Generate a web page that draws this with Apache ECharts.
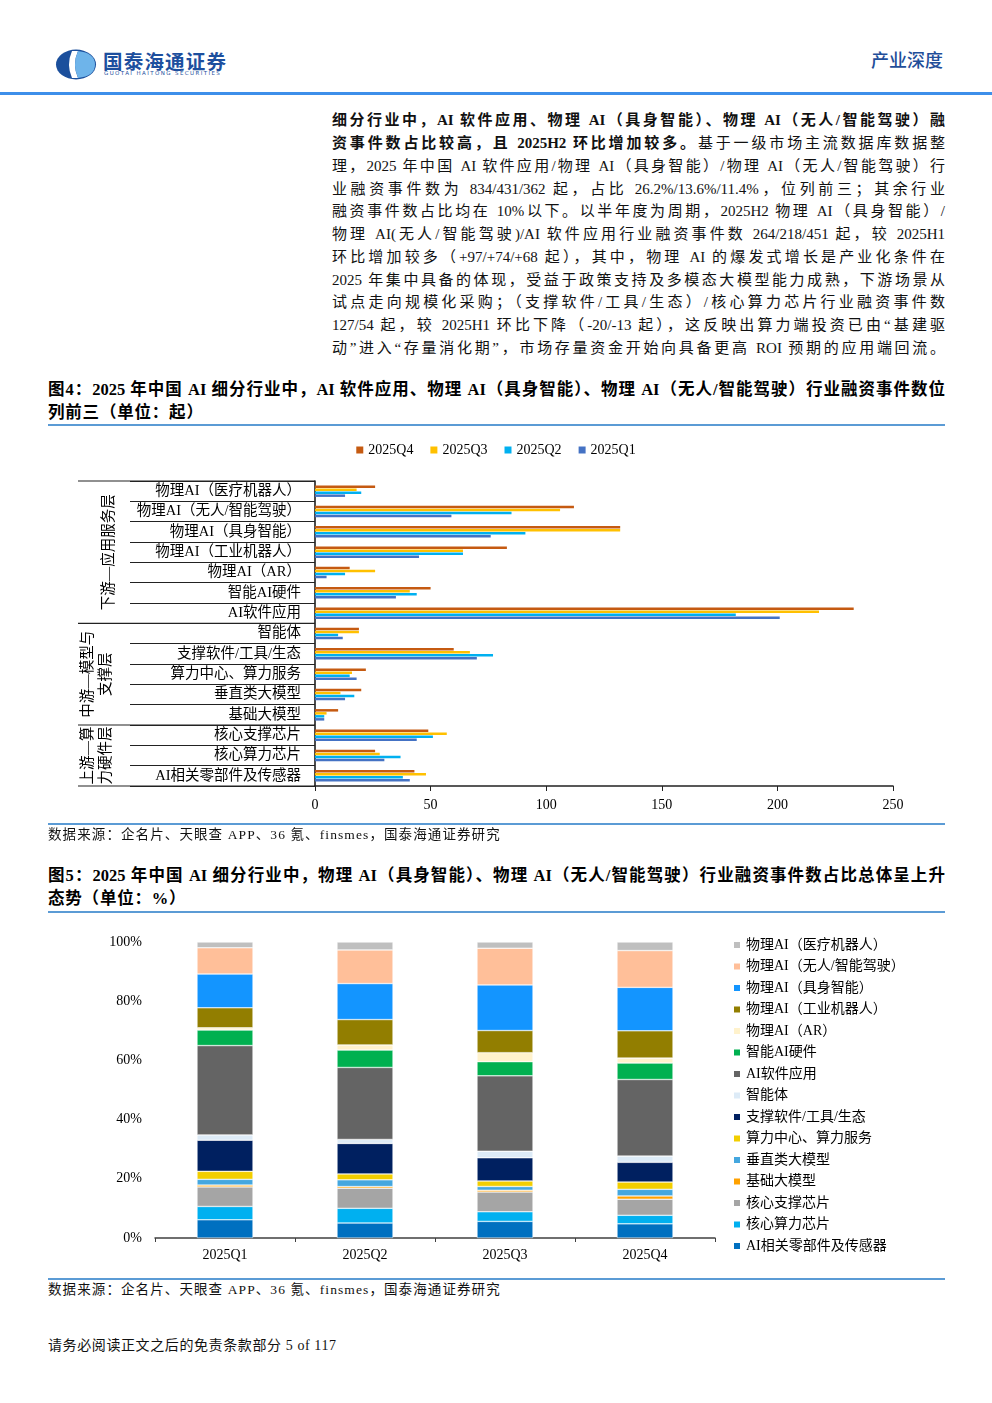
<!DOCTYPE html>
<html><head><meta charset="utf-8">
<script src="https://cdn.jsdelivr.net/npm/echarts@6/dist/echarts.min.js"></script>
<style>
html,body{margin:0;padding:0;background:#fff;}
body{width:992px;height:1403px;position:relative;overflow:hidden;font-family:"Liberation Serif","Times New Roman","Noto Sans CJK SC",serif;color:#000;}
.a{position:absolute;}
.pl{position:absolute;left:332px;width:613px;height:22px;line-height:22px;font-size:15px;text-align:justify;text-align-last:justify;color:#111;}
.b{font-weight:bold;}
.tt{position:absolute;left:48px;width:897px;height:22px;line-height:22px;font-size:16.5px;font-weight:bold;text-align:justify;text-align-last:justify;}
.tt2{position:absolute;left:48px;height:22px;line-height:22px;font-size:16.5px;font-weight:bold;letter-spacing:0.8px;}
.rule{position:absolute;left:48px;width:897px;height:2px;background:#5B9BD5;}
.src{position:absolute;left:48px;font-size:13.5px;letter-spacing:1.1px;line-height:18px;color:#111;}
</style></head>
<body>
<!-- header -->
<svg class="a" style="left:55px;top:49px" width="42" height="31" viewBox="0 0 42 31">
  <ellipse cx="21" cy="15.5" rx="20" ry="15" fill="#1B4F9C"/>
  <path d="M17 2 Q11 15.5 17 29 L23 29 Q17 15.5 23 2 Z" fill="#ffffff"/>
  <path d="M23 2 Q17 15.5 23 29 Q40 27 40 15.5 Q40 4 23 2 Z" fill="#6EB4EA"/>
</svg>
<div class="a" style="left:103px;top:49px;font-family:'Noto Sans CJK SC';font-weight:bold;font-size:19.5px;line-height:24px;color:#1D4F9E;letter-spacing:1.2px;">国泰海通证券</div>
<div class="a" style="left:104px;top:70px;font-family:'DejaVu Sans';font-size:5.5px;line-height:7px;color:#1D4F9E;letter-spacing:1.4px;">GUOTAI HAITONG SECURITIES</div>
<div class="a" style="left:871px;top:47px;font-family:'Noto Sans CJK SC';font-size:18px;line-height:24px;color:#1F4E99;font-weight:500;">产业深度</div>
<div class="a" style="left:0;top:92px;width:992px;height:3px;background:#3D8FEA;"></div>

<!-- paragraph -->
<div class="pl b" style="top:109px">细分行业中，AI 软件应用、物理 AI（具身智能）、物理 AI（无人/智能驾驶）融</div>
<div class="pl" style="top:132px"><span class="b">资事件数占比较高，且 2025H2 环比增加较多。</span>基于一级市场主流数据库数据整</div>
<div class="pl" style="top:155px">理，2025 年中国 AI 软件应用/物理 AI（具身智能）/物理 AI（无人/智能驾驶）行</div>
<div class="pl" style="top:178px">业融资事件数为 834/431/362 起，占比 26.2%/13.6%/11.4%，位列前三；其余行业</div>
<div class="pl" style="top:200px">融资事件数占比均在 10%以下。以半年度为周期，2025H2 物理 AI（具身智能）/</div>
<div class="pl" style="top:223px">物理 AI(无人/智能驾驶)/AI 软件应用行业融资事件数 264/218/451 起，较 2025H1</div>
<div class="pl" style="top:246px">环比增加较多（+97/+74/+68 起），其中，物理 AI 的爆发式增长是产业化条件在</div>
<div class="pl" style="top:269px">2025 年集中具备的体现，受益于政策支持及多模态大模型能力成熟，下游场景从</div>
<div class="pl" style="top:291px">试点走向规模化采购；（支撑软件/工具/生态）/核心算力芯片行业融资事件数</div>
<div class="pl" style="top:314px">127/54 起，较 2025H1 环比下降（-20/-13 起），这反映出算力端投资已由“基建驱</div>
<div class="pl" style="top:337px">动”进入“存量消化期”，市场存量资金开始向具备更高 ROI 预期的应用端回流。</div>

<!-- figure 4 -->
<div class="tt" style="top:379px">图4：2025 年中国 AI 细分行业中，AI 软件应用、物理 AI（具身智能）、物理 AI（无人/智能驾驶）行业融资事件数位</div>
<div class="tt2" style="top:402px;">列前三（单位：起）</div>
<div class="rule" style="top:424px"></div>
<div id="c1" class="a" style="left:0;top:430px;width:992px;height:395px;"></div>
<div class="rule" style="top:823px"></div>
<div class="src" style="top:826px">数据来源：企名片、天眼查 APP、36 氪、finsmes，国泰海通证券研究</div>

<!-- figure 5 -->
<div class="tt" style="top:865px">图5：2025 年中国 AI 细分行业中，物理 AI（具身智能）、物理 AI（无人/智能驾驶）行业融资事件数占比总体呈上升</div>
<div class="tt2" style="top:888px;">态势（单位：%）</div>
<div class="rule" style="top:911px"></div>
<div id="c2" class="a" style="left:0;top:925px;width:992px;height:350px;"></div>
<div class="rule" style="top:1278px"></div>
<div class="src" style="top:1281px">数据来源：企名片、天眼查 APP、36 氪、finsmes，国泰海通证券研究</div>

<div class="src" style="top:1337px;font-size:14px;letter-spacing:0.6px;">请务必阅读正文之后的免责条款部分 5 of 117</div>

<script>
// ---------- data ----------
const categories = ['物理AI（医疗机器人）','物理AI（无人/智能驾驶）','物理AI（具身智能）','物理AI（工业机器人）','物理AI（AR）','智能AI硬件','AI软件应用','智能体','支撑软件/工具/生态','算力中心、算力服务','垂直类大模型','基础大模型','核心支撑芯片','核心算力芯片','AI相关零部件及传感器'];
const quarters = ['2025Q1','2025Q2','2025Q3','2025Q4'];
const q4 = [26,112,132,83,15,50,233,19,60,22,20,10,49,26,43];
const q3 = [18,106,132,64,26,41,218,19,67,16,11,5,57,28,48];
const q2 = [20,85,91,64,13,44,182,10,77,15,17,4,51,37,38];
const q1 = [13,59,76,45,5,35,201,12,70,18,13,4,44,30,41];
const groupNames = ['下游—应用服务层','中游—模型与\n支撑层','上游—算\n力硬件层'];
const groupBounds = [0,7,12,15];
const xTicks = [0,50,100,150,200,250];
const pctTicks = [0,20,40,60,80,100];

// ---------- styles ----------
const FONT = "'Liberation Serif','Times New Roman','Noto Sans CJK SC',serif";
const qColors = {'2025Q4':'#C55A11','2025Q3':'#FFC000','2025Q2':'#00B0F0','2025Q1':'#4472C4'};
const catColors = ['#BFBFBF','#FFBF99','#1395FF','#927E00','#FFF2CC','#00B050','#646464','#DDEBF7','#002060','#F2CE00','#44A7DF','#FFA100','#A5A5A5','#00B0F0','#0070C0'];

// ---------- chart 1 ----------
const chart1 = echarts.init(document.getElementById('c1'), null, {renderer:'canvas'});
const qSeries = [['2025Q4',q4],['2025Q3',q3],['2025Q2',q2],['2025Q1',q1]];
chart1.setOption({
  animation:false,
  legend:{top:8,left:'center',itemWidth:7,itemHeight:7,itemGap:17,icon:'rect',
    textStyle:{fontFamily:FONT,fontSize:14,color:'#000'},
    data:qSeries.map(s=>s[0])},
  grid:{left:315,right:99,top:51,bottom:39,containLabel:false},
  xAxis:{type:'value',min:xTicks[0],max:xTicks[xTicks.length-1],interval:50,
    axisLine:{show:true,lineStyle:{color:'#222',width:1.5}},
    axisTick:{show:true,length:5,lineStyle:{color:'#222'}},
    splitLine:{show:false},
    axisLabel:{fontFamily:FONT,fontSize:14,color:'#000',margin:12}},
  yAxis:{type:'category',inverse:true,data:categories,
    axisLine:{show:true,lineStyle:{color:'#111',width:1.5}},
    axisTick:{show:true,interval:0,length:185,lineStyle:{color:'#222',width:1.2}},
    axisLabel:{interval:0,fontFamily:FONT,fontSize:14.5,color:'#000',margin:14}},
  series:qSeries.map(([name,vals])=>({
    name,type:'bar',data:vals,barWidth:2.5,barGap:'20%',
    itemStyle:{color:qColors[name]}
  }))
});
function decor1(){
  const band = chart1.convertToPixel({yAxisIndex:0},categories[1]) - chart1.convertToPixel({yAxisIndex:0},categories[0]);
  const yTop = chart1.convertToPixel({yAxisIndex:0},categories[0]) - band/2;
  const gx = chart1.convertToPixel({xAxisIndex:0},0);
  const els = [];
  groupBounds.forEach(b=>{
    const y = yTop + b*band;
    els.push({type:'line',shape:{x1:gx-237,y1:y,x2:gx,y2:y},style:{stroke:'#222',lineWidth:1.2},silent:true});
  });
  groupNames.forEach((t,i)=>{
    const cy = yTop + (groupBounds[i]+groupBounds[i+1])/2*band;
    const cx = t.indexOf('\n')>=0 ? gx-218 : gx-206;
    els.push({type:'text',x:cx,y:cy,rotation:Math.PI/2,silent:true,
      style:{text:t,fill:'#000',fontSize:14.5,fontFamily:FONT,align:'center',verticalAlign:'middle',lineHeight:18}});
  });
  chart1.setOption({graphic:{elements:els}});
}
decor1();

// ---------- chart 2 ----------
const chart2 = echarts.init(document.getElementById('c2'), null, {renderer:'canvas'});
const quarterData = [q1,q2,q3,q4];
const totals = quarterData.map(a=>a.reduce((s,v)=>s+v,0));
const stackOrder = categories.map((c,i)=>i).reverse(); // bottom -> top
chart2.setOption({
  animation:false,
  legend:{orient:'vertical',left:727,top:8,itemWidth:8,itemHeight:8,itemGap:7.5,icon:'rect',
    textStyle:{fontFamily:FONT,fontSize:14,color:'#000',lineHeight:14},
    data:categories.slice()},
  grid:{left:155,right:277,top:17,bottom:37,containLabel:false},
  xAxis:{type:'category',data:quarters,
    axisLine:{show:true,lineStyle:{color:'#404040',width:1.5}},
    axisTick:{show:true,length:4,lineStyle:{color:'#404040'}},
    axisLabel:{fontFamily:FONT,fontSize:14,color:'#000',margin:10}},
  yAxis:{type:'value',min:pctTicks[0],max:pctTicks[pctTicks.length-1],interval:20,
    axisLine:{show:false},axisTick:{show:false},splitLine:{show:false},
    axisLabel:{formatter:'{value}%',fontFamily:FONT,fontSize:14,color:'#000',margin:13}},
  series:stackOrder.map(i=>({
    name:categories[i],type:'bar',stack:'total',barWidth:56,
    data:quarterData.map((arr,k)=>arr[i]/totals[k]*100),
    itemStyle:{color:catColors[i],borderColor:'#fff',borderWidth:0.5}
  }))
});
</script>
</body></html>
